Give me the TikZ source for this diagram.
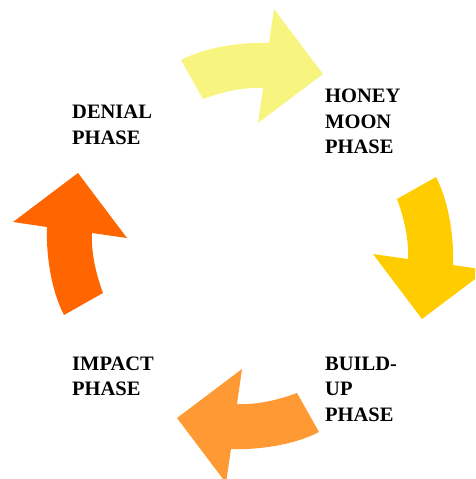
\documentclass[tikz,border=0pt]{standalone}
\usepackage{fontspec}
\setmainfont{Liberation Serif}
\begin{document}
\begin{tikzpicture}[x=1pt,y=1pt,
  phase/.style={anchor=base west,inner sep=0pt,align=left,
    font=\fontsize{20.5}{25.5}\selectfont\bfseries}]
\definecolor{paleyellow}{HTML}{F7F47F}
\definecolor{gold}{HTML}{FFCC00}
\definecolor{lightorange}{HTML}{FF9933}
\definecolor{deeporange}{HTML}{FF6600}
\useasboundingbox (0,0) rectangle (475,-479);
\clip (0,0) rectangle (475,-479);
% one curved block arrow, turned a quarter step for each phase
\foreach \ang/\col in {0/paleyellow,-90/gold,-180/lightorange,-270/deeporange}{
  \begin{scope}[shift={(250,-246)},rotate=\ang]
    \fill[\col] (-69,186) .. controls (-42,200) and (-5,204) .. (19,203)
      -- (24,237) -- (73,172) -- (8,123) -- (13,158)
      .. controls (-7,159) and (-28,154) .. (-47,147) -- cycle;
  \end{scope}
}
% labels are placed by the baseline of their last line
\node[phase] (denial) at (72,-144) {DENIAL\\PHASE};
\node[phase] (honeymoon) at (325,-153.5) {HONEY\\MOON\\PHASE};
\node[phase] (buildup) at (325,-421) {BUILD-\\UP\\PHASE};
\node[phase] (impact) at (72,-395.5) {IMPACT\\PHASE};
\end{tikzpicture}
\end{document}
